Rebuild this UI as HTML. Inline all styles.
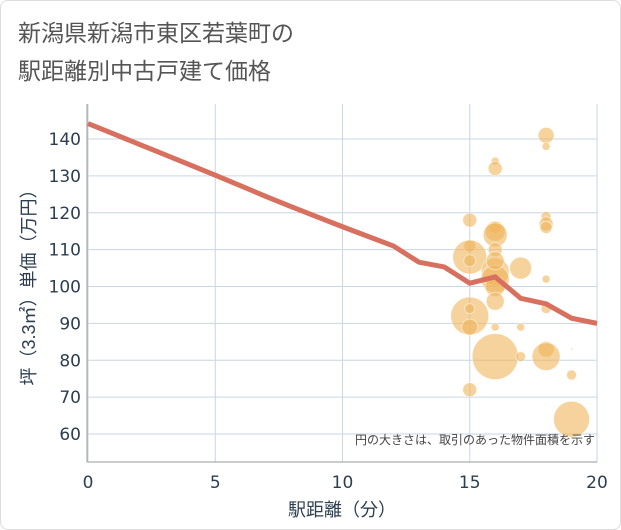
<!DOCTYPE html>
<html><head><meta charset="utf-8"><style>
body{margin:0;background:#fff;font-family:"Liberation Sans","Noto Sans CJK JP",sans-serif}
#wrap{position:relative;width:619px;height:528px;border:1px solid #ddd;border-radius:8px;overflow:hidden}
</style></head><body>
<div id="wrap">
<svg id="svg" width="621" height="530">
<text x="17" y="40" font-size="23" fill="#555">新潟県新潟市東区若葉町の</text>
<text x="17" y="78" font-size="23" fill="#555">駅距離別中古戸建て価格</text>
<text transform="translate(34,282) rotate(-90)" text-anchor="middle" font-size="18" fill="#2c3e50">坪（3.3㎡）単価（万円）</text>
<text x="341" y="515" text-anchor="middle" font-size="18" fill="#2c3e50">駅距離（分）</text>
<g id="grid"></g><g id="bubbles"></g><g id="line"></g><g id="ticks"></g>
<line x1="86" y1="103" x2="86" y2="461" stroke="#999"/>
<line x1="86" y1="461" x2="596" y2="461" stroke="#999"/>
<text x="594" y="443" text-anchor="end" font-size="12" fill="#444">円の大きさは、取引のあった物件面積を示す</text>
</svg></div>
<script>
const xTicks=[0,5,10,15,20];
const yTicks=[60,70,80,90,100,110,120,130,140];
const lineX=[0,1,2,3,4,5,6,7,8,9,10,11,12,13,14,15,16,17,18,19,20];
const lineY=[144.2,141.4,138.6,135.8,133,130.2,127.3,124.4,121.6,118.9,116.2,113.6,111,106.6,105.3,100.9,102.6,96.8,95.3,91.4,90];
const bubX=[15,15,15,15,15,15,15,15,16,16,16,16,16,16,16,16,16,16,16,16,16,17,17,17,18,18,18,18,18,18,18,18,18,19,19,19];
const bubY=[118,111,108,107,92,89,94,72,134,132,116,115,114,110,104,102,100,96,89,81,107,105,89,81,141,138,119,117,116,102,94,83,81,83,76,64];
const bubR=[7,6,17,6,19,8,5,7,4,7,6,10,12,7,14,14,10,9,4,23,9,11,4,5,8,4,5,7,6,4,5,8,14,1,5,18];
const X=v=>87+v*25.45, Y=v=>138+(140-v)*3.6875;
const ns="http://www.w3.org/2000/svg";
function mk(t,a,p){const e=document.createElementNS(ns,t);for(const k in a)e.setAttribute(k,a[k]);p.appendChild(e);return e;}
const g=document.getElementById('grid'),tk=document.getElementById('ticks');
const tf='"DejaVu Sans",sans-serif';
xTicks.forEach(v=>{const l=mk('line',{x1:X(v),x2:X(v),y1:103,y2:461,stroke:'#c9d6e3'},g);


const t=mk('text',{x:X(v),y:487,'text-anchor':'middle','font-size':17,fill:'#2c3e50','font-family':tf},tk);t.textContent=v;

});
yTicks.forEach(v=>{const l=mk('line',{x1:86,x2:596,y1:Y(v),y2:Y(v),stroke:'#c9d6e3'},g);


const t=mk('text',{x:80,y:Y(v)+6,'text-anchor':'end','font-size':17,fill:'#2c3e50','font-family':tf},tk);t.textContent=v;

});
const b=document.getElementById('bubbles');
bubX.forEach((v,i)=>{const c=mk('circle',{cx:X(v),cy:Y(bubY[i]),r:bubR[i],fill:'rgba(240,180,90,0.6)',stroke:'rgba(255,255,255,0.5)','stroke-width':1},b);

});
const p=mk('polyline',{points:lineX.map((v,i)=>X(v)+','+Y(lineY[i])).join(' '),fill:'none',stroke:'#d87060','stroke-width':5},document.getElementById('line'));


</script>
</body></html>
